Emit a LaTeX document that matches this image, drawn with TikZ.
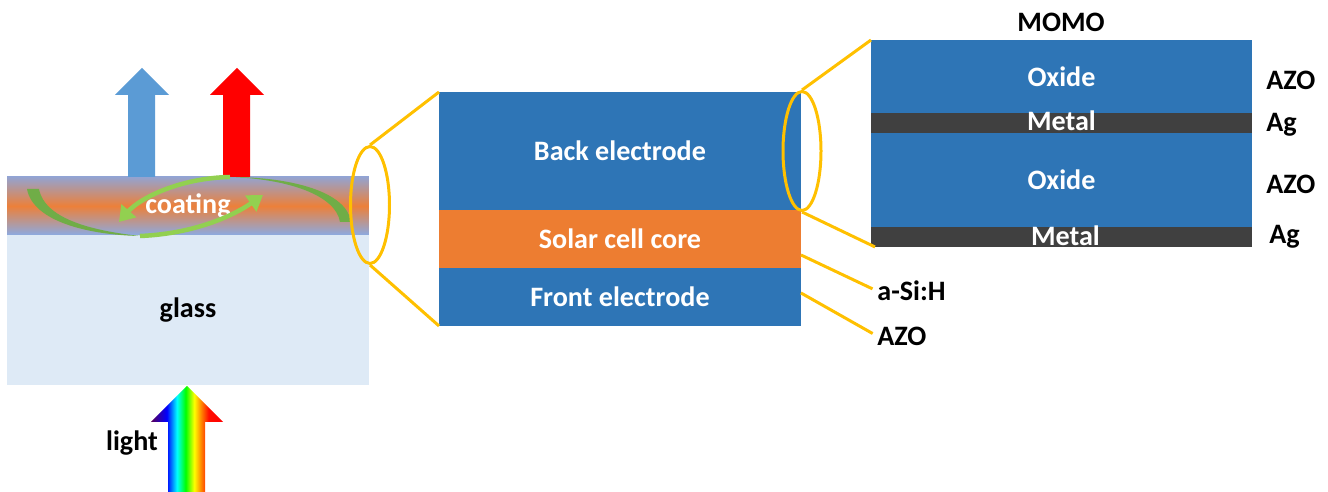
\documentclass[tikz,border=0pt]{standalone}
\usepackage{fontspec}
\setmainfont{Carlito}
\usepackage{xcolor}
\usetikzlibrary{positioning,shapes.geometric,arrows.meta}
\definecolor{layerblue}{RGB}{46,117,182}
\definecolor{coreorange}{RGB}{237,125,49}
\definecolor{metalgray}{RGB}{64,64,64}
\definecolor{zoomgold}{RGB}{255,192,0}
\definecolor{glassblue}{RGB}{222,234,246}
\definecolor{skyblue}{RGB}{91,155,213}
\definecolor{darkgreen}{RGB}{112,173,71}
\definecolor{lightgreen}{RGB}{146,208,80}
\definecolor{coattop}{RGB}{148,163,208}
\definecolor{coatmid}{RGB}{236,128,58}
\definecolor{coatbot}{RGB}{140,170,225}
\pgfdeclarehorizontalshading{rainbow}{100bp}{color(0bp)=(violet!70!black); color(25bp)=(violet!70!black);
  color(36bp)=(blue); color(43bp)=(cyan); color(49bp)=(green); color(55bp)=(yellow);
  color(60bp)=(orange); color(65bp)=(red!90!orange); color(75bp)=(red); color(100bp)=(red)}
\makeatletter
\renewcommand\small{%
  \@setfontsize\small{16pt}{19pt}%
}
\makeatother

\begin{document}
\begin{tikzpicture}[x=0.02cm, y=-0.02cm, every node/.style={font=\small\bfseries},
  layer/.style={fill=layerblue, text=white, inner sep=0, outer sep=0, anchor=north west},
  metal/.style={layer, fill=metalgray, minimum height=0.4cm, text height=1.2ex, text depth=0pt},
  zoomring/.style={ellipse, draw=zoomgold, line width=0.06cm, inner sep=0},
  zoomline/.style={zoomgold, line width=0.06cm},
  tag/.style={inner sep=0}]
  \useasboundingbox (0,0) rectangle (1328,492);
  \node[layer, top color=coattop, bottom color=coatbot, middle color=coatmid,
    minimum width=7.24cm, minimum height=1.16cm] (coating) at (7,177) {coating};
  \node[layer, fill=glassblue, text=black, minimum width=7.24cm, minimum height=3cm,
    below=0pt of coating] (glass) {glass};
  \fill[skyblue] (128,177) -- (128,95) -- (115,95) -- (142,68) -- (169,95) -- (155,95) -- (155,177) -- cycle;
  \fill[red] (223,177) -- (223,95) -- (210,95) -- (237,68) -- (264,95) -- (250,95) -- (250,177) -- cycle;
  \shade[shading=rainbow] (168,492) -- (168,422) -- (151,422) -- (187,386) -- (223,422) -- (205,422) -- (205,492) -- cycle;
  \node (lightlbl) at (132,443) {light};
  \fill[darkgreen] (27,189) .. controls (33,222) and (90,235) .. (140,236) .. controls (95,231) and (45,220) .. (39,189) -- cycle;
  \draw[lightgreen, line width=0.09cm, -{Triangle[width=0.38cm,length=0.3cm]}] (140,236) .. controls (190,234) and (230,218) .. (263,195);
  \fill[darkgreen] (340,222) .. controls (336,196) and (290,179) .. (230,177) .. controls (292,177) and (347,192) .. (351,222) -- cycle;
  \draw[lightgreen, line width=0.09cm, -{Triangle[width=0.38cm,length=0.3cm]}] (230,177) .. controls (180,178) and (140,198) .. (119,222);
  \node[layer, minimum width=7.24cm, minimum height=2.36cm] (back) at (439,92) {Back electrode};
  \node[layer, fill=coreorange, minimum width=7.24cm, minimum height=1.16cm, below=0pt of back] (core) {Solar cell core};
  \node[layer, minimum width=7.24cm, minimum height=1.16cm, below=0pt of core] (front) {Front electrode};
  \node[layer, minimum width=7.62cm, minimum height=1.46cm] (oxtop) at (871,40) {Oxide};
  \node[metal, minimum width=7.62cm, below=0pt of oxtop] (mettop) {\raisebox{-0.05cm}{Metal}};
  \node[layer, minimum width=7.62cm, minimum height=1.88cm, below=0pt of mettop] (oxbot) {Oxide};
  \node[metal, minimum width=7.62cm, below=0pt of oxbot] (metbot) {\hspace{0.16cm}\raisebox{-0.08cm}{Metal}};
  \node (momo) at (1061,22) {MOMO};
  \node[tag, right=0.28cm of oxtop, yshift=-0.07cm] (azotop) {AZO};
  \node[tag, right=0.28cm of mettop, yshift=-0.04cm] (agtop) {Ag};
  \node[tag, right=0.28cm of oxbot, yshift=-0.08cm] (azobot) {AZO};
  \node[tag, right=0.34cm of metbot] (agbot) {Ag};
  \node[tag, anchor=west] (asi) at (877,291) {a-Si:H};
  \node[tag, anchor=west] (azofront) at (877,336) {AZO};
  \node[zoomring, minimum width=0.78cm, minimum height=2.34cm] (zoomA) at (370,205) {};
  \node[zoomring, minimum width=0.76cm, minimum height=2.38cm] (zoomB) at (802,151) {};
  \draw[zoomline] (zoomA.north) -- (back.north west);
  \draw[zoomline] (zoomA.south) -- (front.south west);
  \draw[zoomline] (zoomB.north) -- (oxtop.north west);
  \draw[zoomline] (zoomB.south) -- ([xshift=0.08cm]metbot.south west);
  \draw[zoomline, shorten >=0.1cm] ([yshift=-0.32cm]core.east) -- (asi.west);
  \draw[zoomline, shorten >=0.1cm] ([yshift=0.08cm]front.east) -- (azofront.west);
\end{tikzpicture}
\end{document}
